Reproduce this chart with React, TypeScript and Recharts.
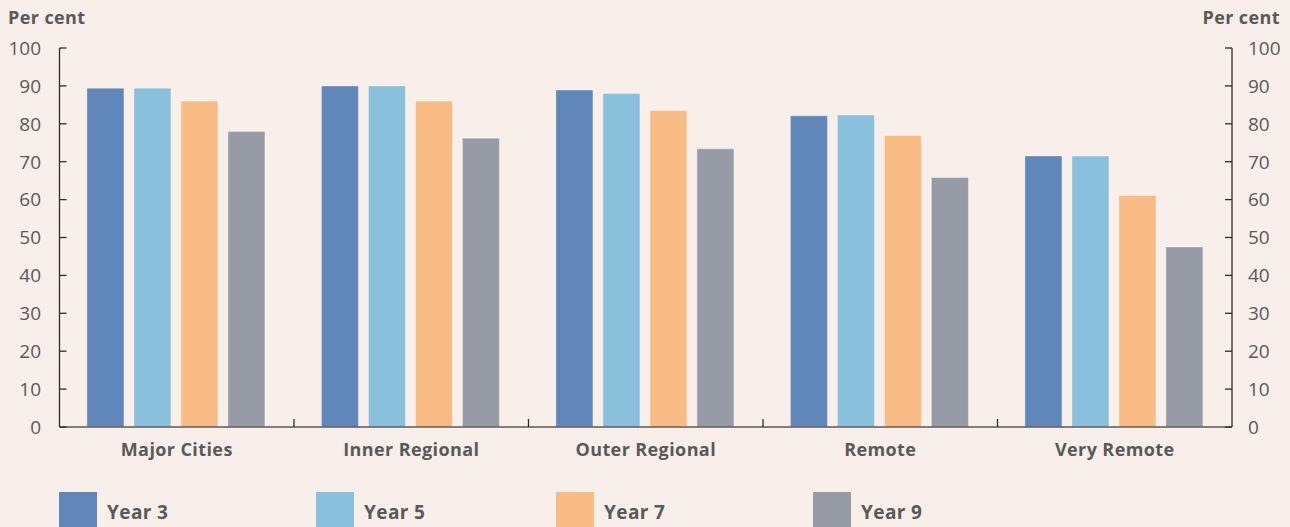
import { BarChart, Bar, XAxis, YAxis } from "recharts";

const categories = ["Major Cities", "Inner Regional", "Outer Regional", "Remote", "Very Remote"];
const seriesNames = ["Year 3", "Year 5", "Year 7", "Year 9"];
const year3 = [89.4, 90.0, 88.9, 82.1, 71.5];
const year5 = [89.4, 90.0, 88.0, 82.3, 71.5];
const year7 = [86.0, 86.0, 83.5, 76.9, 61.1];
const year9 = [78.0, 76.2, 73.4, 65.8, 47.5];
const yTicks = [0, 10, 20, 30, 40, 50, 60, 70, 80, 90, 100];

const colors = ["#6186b9", "#89c0dc", "#f9bc85", "#979ba5"];
const keys = ["y3", "y5", "y7", "y9"];
const legendLeft = [59, 316, 556, 813];

const data = categories.map((name, i) => ({
  name,
  y3: year3[i],
  y5: year5[i],
  y7: year7[i],
  y9: year9[i],
}));

const FONT = "'Open Sans', sans-serif";
const TEXT = "#595959";
const AXIS = "#2b2b2b";

function LeftTick(props: any) {
  const { x, y, payload } = props;
  return (
    <g>
      <line x1={x} x2={x + 7} y1={y} y2={y} stroke={AXIS} strokeWidth={1.3} />
      <text x={x - 18.5} y={y} dy="0.36em" textAnchor="end" fill={TEXT} fontSize={19} fontFamily={FONT}>
        {payload.value}
      </text>
    </g>
  );
}

function RightTick(props: any) {
  const { x, y, payload } = props;
  return (
    <g>
      <line x1={x - 7} x2={x} y1={y} y2={y} stroke={AXIS} strokeWidth={1.3} />
      <text x={x + 16} y={y} dy="0.36em" textAnchor="start" fill={TEXT} fontSize={19} fontFamily={FONT}>
        {payload.value}
      </text>
    </g>
  );
}

function CategoryTick(props: any) {
  const { x, y, payload, index } = props;
  const off = payload.offset ?? 117.25;
  return (
    <g>
      {index > 0 && <line x1={x - off} x2={x - off} y1={y} y2={y - 8} stroke={AXIS} strokeWidth={1.3} />}
      <text
        x={x}
        y={y + 29}
        textAnchor="middle"
        fill={TEXT}
        fontSize={18}
        fontWeight={700}
        letterSpacing={0.4}
        fontFamily={FONT}
      >
        {payload.value}
      </text>
    </g>
  );
}

const boldText = { fontSize: 18, fontWeight: 700, color: TEXT, letterSpacing: 0.4 };

export default function App() {
  return (
    <div
      style={{
        position: "absolute",
        left: 0,
        top: 0,
        width: 1290,
        height: 527,
        background: "#f8efea",
        overflow: "hidden",
        fontFamily: FONT,
      }}
    >
      <div style={{ ...boldText, position: "absolute", left: 8, top: 5 }}>Per cent</div>
      <div style={{ ...boldText, position: "absolute", right: 10, top: 5 }}>Per cent</div>

      <BarChart
        width={1290}
        height={527}
        data={data}
        margin={{ top: 48, right: 0, bottom: 0, left: 0 }}
        barCategoryGap="11.7%"
        barGap={10}
      >
        <XAxis
          dataKey="name"
          height={100}
          tickSize={0}
          tickMargin={0}
          tick={<CategoryTick />}
          axisLine={{ stroke: "#5e5855", strokeWidth: 1.6 }}
          interval={0}
        />
        <YAxis
          yAxisId="left"
          orientation="left"
          width={59.5}
          type="number"
          domain={[0, 100]}
          allowDataOverflow
          ticks={yTicks}
          tickSize={0}
          tickMargin={0}
          tick={<LeftTick />}
          axisLine={{ stroke: AXIS, strokeWidth: 1.3 }}
          interval={0}
        />
        <YAxis
          yAxisId="right"
          orientation="right"
          width={58}
          type="number"
          domain={[0, 100]}
          allowDataOverflow
          ticks={yTicks}
          tickSize={0}
          tickMargin={0}
          tick={<RightTick />}
          axisLine={{ stroke: AXIS, strokeWidth: 1.3 }}
          interval={0}
        />
        {keys.map((k, i) => (
          <Bar
            key={k}
            yAxisId="left"
            dataKey={k}
            name={seriesNames[i]}
            fill={colors[i]}
            stroke="#ffffff"
            strokeOpacity={0.35}
            strokeWidth={1}
            isAnimationActive={false}
          />
        ))}
      </BarChart>

      {seriesNames.map((s, i) => (
        <div
          key={s}
          style={{ position: "absolute", left: legendLeft[i], top: 492, display: "flex", alignItems: "flex-start" }}
        >
          <div style={{ width: 38, height: 40, background: colors[i] }} />
          <div style={{ ...boldText, fontSize: 19, marginLeft: 10, marginTop: 8, lineHeight: "24px" }}>{s}</div>
        </div>
      ))}
    </div>
  );
}
